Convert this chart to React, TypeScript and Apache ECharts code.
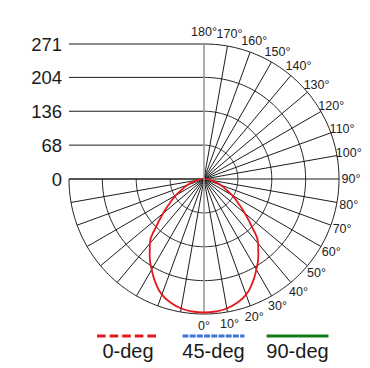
import React, { useEffect, useRef } from 'react';
import * as echarts from 'echarts';

// Gamma angles (deg from nadir) and luminous intensity per C-plane
const GAMMA = [0, 5, 10, 15, 20, 25, 30, 35, 40, 45, 50, 55, 60, 65, 70, 75, 80, 85, 90];
const DEG0 = [268, 267, 264, 257, 247, 230, 210, 190, 169, 136, 107, 83, 65, 47, 36, 22, 14, 8, 3];
const DEG45: number[] = [];
const DEG90: number[] = [];

// Axis scale
const RINGS = [68, 136, 204, 271];
const RADIUS_TICKS = [0, 68, 136, 204, 271];
const ANGLE_TICKS = [0, 10, 20, 30, 40, 50, 60, 70, 80, 90, 100, 110, 120, 130, 140, 150, 160, 170, 180];
const LEFT_SPOKES = [10, 20, 30, 40, 50, 60, 70, 80, 90];
const MAX_R = 271;
const LABEL_R = 295;

const SERIES_NAMES = ['0-deg', '45-deg', '90-deg'];
const SERIES_COLORS = ['#e3191f', '#3d74d9', '#187a18'];

const FONT = '"Liberation Sans", Arial, Helvetica, sans-serif';

function mirrored(vals: number[]): [number, number][] {
  if (!vals.length) return [];
  const left: [number, number][] = [];
  for (let i = GAMMA.length - 1; i >= 1; i--) left.push([vals[i], -GAMMA[i]]);
  const right: [number, number][] = GAMMA.map((g, i) => [vals[i], g] as [number, number]);
  return [...left, ...right];
}

export default function App() {
  const ref = useRef<HTMLDivElement>(null);

  useEffect(() => {
    if (!ref.current) return;
    const chart = echarts.init(ref.current, undefined, { renderer: 'svg' });

    const gridRender = (params: any, api: any) => {
      const children: any[] = [];
      const stroke = { stroke: '#1c1c1c', lineWidth: 1, fill: null };
      const c = api.coord([0, 0]);
      const arc = (r: number, a0: number, a1: number) => {
        const pts: number[][] = [];
        for (let a = a0; a <= a1; a += 1) pts.push(api.coord([r, a]));
        return { type: 'polyline', shape: { points: pts }, style: stroke, silent: true };
      };
      RINGS.forEach((r) => children.push(arc(r, -90, 180)));
      // spokes right half
      ANGLE_TICKS.forEach((a) => {
        if (a === 0 || a === 180) return;
        const p0 = api.coord([0, a]);
        const p1 = api.coord([MAX_R, a]);
        children.push({ type: 'line', shape: { x1: p0[0], y1: p0[1], x2: p1[0], y2: p1[1] }, style: stroke, silent: true });
      });
      // spokes lower-left quadrant
      LEFT_SPOKES.forEach((a) => {
        const p0 = api.coord([0, -a]);
        const p1 = api.coord([MAX_R, -a]);
        children.push({ type: 'line', shape: { x1: p0[0], y1: p0[1], x2: p1[0], y2: p1[1] }, style: stroke, silent: true });
      });
      // horizontal scale lines + labels upper-left
      const xLeft = api.coord([MAX_R, -90])[0];
      RADIUS_TICKS.forEach((r) => {
        const y = api.coord([r, 180])[1];
        children.push({ type: 'line', shape: { x1: xLeft, y1: y, x2: c[0], y2: y }, style: stroke, silent: true });
        children.push({
          type: 'text',
          x: xLeft - 7,
          y: y,
          style: { text: String(r), align: 'right', verticalAlign: 'middle', textAlign: 'right', textVerticalAlign: 'middle', fill: '#1a1a1a', fontSize: 18.5, fontFamily: FONT },
          silent: true,
        });
      });
      // vertical axis
      const top = api.coord([MAX_R, 180]);
      const bot = api.coord([MAX_R, 0]);
      children.push({ type: 'line', shape: { x1: top[0], y1: top[1], x2: bot[0], y2: bot[1] }, style: { stroke: '#9a9a9a', lineWidth: 1.6 }, silent: true });
      // angle labels
      ANGLE_TICKS.forEach((a) => {
        const p = api.coord([LABEL_R, a]);
        children.push({
          type: 'text',
          x: p[0],
          y: p[1],
          style: { text: a + '°', align: 'center', verticalAlign: 'middle', textAlign: 'center', textVerticalAlign: 'middle', fill: '#222', fontSize: 12.5, fontFamily: FONT },
          silent: true,
        });
      });
      return { type: 'group', children };
    };

    const datasets = [DEG0, DEG45, DEG90];
    const lineSeries = [2, 1, 0].map((i) => ({
      type: 'line',
      name: SERIES_NAMES[i],
      coordinateSystem: 'polar',
      data: mirrored(datasets[i]),
      smooth: true,
      showSymbol: false,
      symbol: 'none',
      lineStyle: { color: SERIES_COLORS[i], width: 1.8 },
      z: 5,
    }));

    const legendX = [128, 213.5, 297.5];
    const legendDash: any[] = [[8.6, 4], [6, 1.2], null];
    const graphic: any[] = [];
    SERIES_NAMES.forEach((n, i) => {
      graphic.push({
        type: 'line',
        shape: { x1: legendX[i] - 31, y1: 336, x2: legendX[i] + 31, y2: 336 },
        style: { stroke: SERIES_COLORS[i], lineWidth: 3.2, lineDash: legendDash[i] || undefined },
      });
      graphic.push({
        type: 'text',
        x: legendX[i],
        y: 351,
        style: { text: n, align: 'center', verticalAlign: 'middle', textAlign: 'center', textVerticalAlign: 'middle', fill: '#1a1a1a', fontSize: 20, fontFamily: FONT },
      });
    });

    chart.setOption({
      animation: false,
      polar: { center: [204, 179], radius: 135 },
      angleAxis: {
        type: 'value', min: -180, max: 180, startAngle: 90, clockwise: false,
        axisLine: { show: false }, axisTick: { show: false }, axisLabel: { show: false }, splitLine: { show: false },
      },
      radiusAxis: {
        type: 'value', min: 0, max: MAX_R,
        axisLine: { show: false }, axisTick: { show: false }, axisLabel: { show: false }, splitLine: { show: false },
      },
      series: [
        { type: 'custom', coordinateSystem: 'polar', data: [[0, 0]], renderItem: gridRender, z: 1, silent: true },
        ...lineSeries,
      ],
      graphic,
    } as any);

    return () => chart.dispose();
  }, []);

  return <div ref={ref} style={{ position: 'fixed', left: 0, top: 0, width: 370, height: 368, background: '#fff' }} />;
}
